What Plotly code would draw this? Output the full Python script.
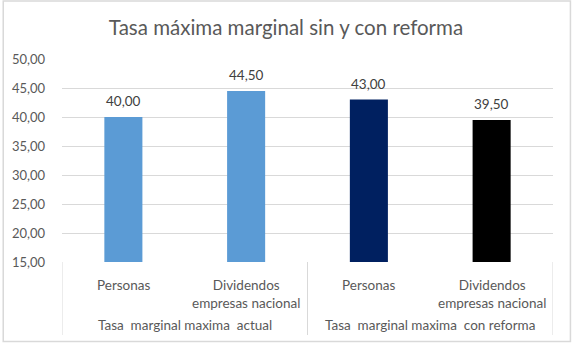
import plotly.graph_objects as go

# Marginal tax rates, current vs. reform
groups = ["Tasa  marginal maxima  actual", "Tasa  marginal maxima  con reforma"]
subcats = ["Personas", "Dividendos<br>empresas nacional", "Personas", "Dividendos<br>empresas nacional"]
values = [40.00, 44.50, 43.00, 39.50]
bar_colors = ["#5B9BD5", "#5B9BD5", "#002060", "#000000"]
y_ticks = [15, 20, 25, 30, 35, 40, 45, 50]

x_pos = list(range(len(values)))
W, H = 572, 344
L, R, T, B = 60, 19, 59, 82
plot_h = H - T - B
FONT = "Lato, 'Open Sans', sans-serif"
GRID = "#D9D9D9"
TXT = "#595959"

fig = go.Figure(go.Bar(
    x=x_pos, y=values,
    marker=dict(color=bar_colors, line=dict(width=0)),
    width=0.31,
))

def py(px_from_top):
    # convert a pixel row of the page to paper y
    return (H - B - px_from_top) / plot_h

annotations = []
# value labels above bars
for i, v in enumerate(values):
    annotations.append(dict(
        x=i, y=v, xref="x", yref="y", text=f"{v:.2f}".replace(".", ","),
        showarrow=False, yanchor="bottom", xanchor="center", yshift=6,
        font=dict(family=FONT, size=13.5, color="#404040"),
    ))
# sub-category labels
for i, s in enumerate(subcats):
    annotations.append(dict(
        x=i, y=py(275), xref="x", yref="paper", text=s, showarrow=False,
        yanchor="top", xanchor="center", align="center",
        font=dict(family=FONT, size=13.5, color=TXT),
    ))
# group labels
for g, name in enumerate(groups):
    annotations.append(dict(
        x=2 * g + 0.5, y=py(325), xref="x", yref="paper", text=name, showarrow=False,
        yanchor="middle", xanchor="center",
        font=dict(family=FONT, size=13.5, color=TXT),
    ))

shapes = []
# category box dividers below the axis
for xv in [-0.5, 1.5, 3.5]:
    shapes.append(dict(type="line", xref="x", yref="paper", x0=xv, x1=xv,
                       y0=0, y1=py(335), line=dict(color=GRID, width=1)))
# outer chart border
shapes.append(dict(type="rect", xref="paper", yref="paper",
                   x0=(1 - L) / (W - L - R), x1=(570.5 - L) / (W - L - R),
                   y0=py(341.5), y1=py(1),
                   line=dict(color=GRID, width=1.5)))

fig.update_layout(
    width=W, height=H,
    margin=dict(l=L, r=R, t=T, b=B),
    paper_bgcolor="white", plot_bgcolor="white",
    separators=",.",
    showlegend=False,
    title=dict(text="Tasa máxima marginal sin y con reforma", x=0.5, xref="container",
               xanchor="center", y=1 - 28 / H, yanchor="middle",
               font=dict(family=FONT, size=20.5, color=TXT)),
    xaxis=dict(range=[-0.5, 3.5], showticklabels=False, showgrid=False,
               zeroline=False, showline=False, ticks=""),
    yaxis=dict(range=[15, 50], tickvals=y_ticks, tickformat=".2f",
               showgrid=True, gridcolor=GRID, gridwidth=1, zeroline=False,
               showline=False, ticks="", ticklabelstandoff=16,
               tickfont=dict(family=FONT, size=13, color=TXT)),
    annotations=annotations,
    shapes=shapes,
)

fig.write_html("out.html")
